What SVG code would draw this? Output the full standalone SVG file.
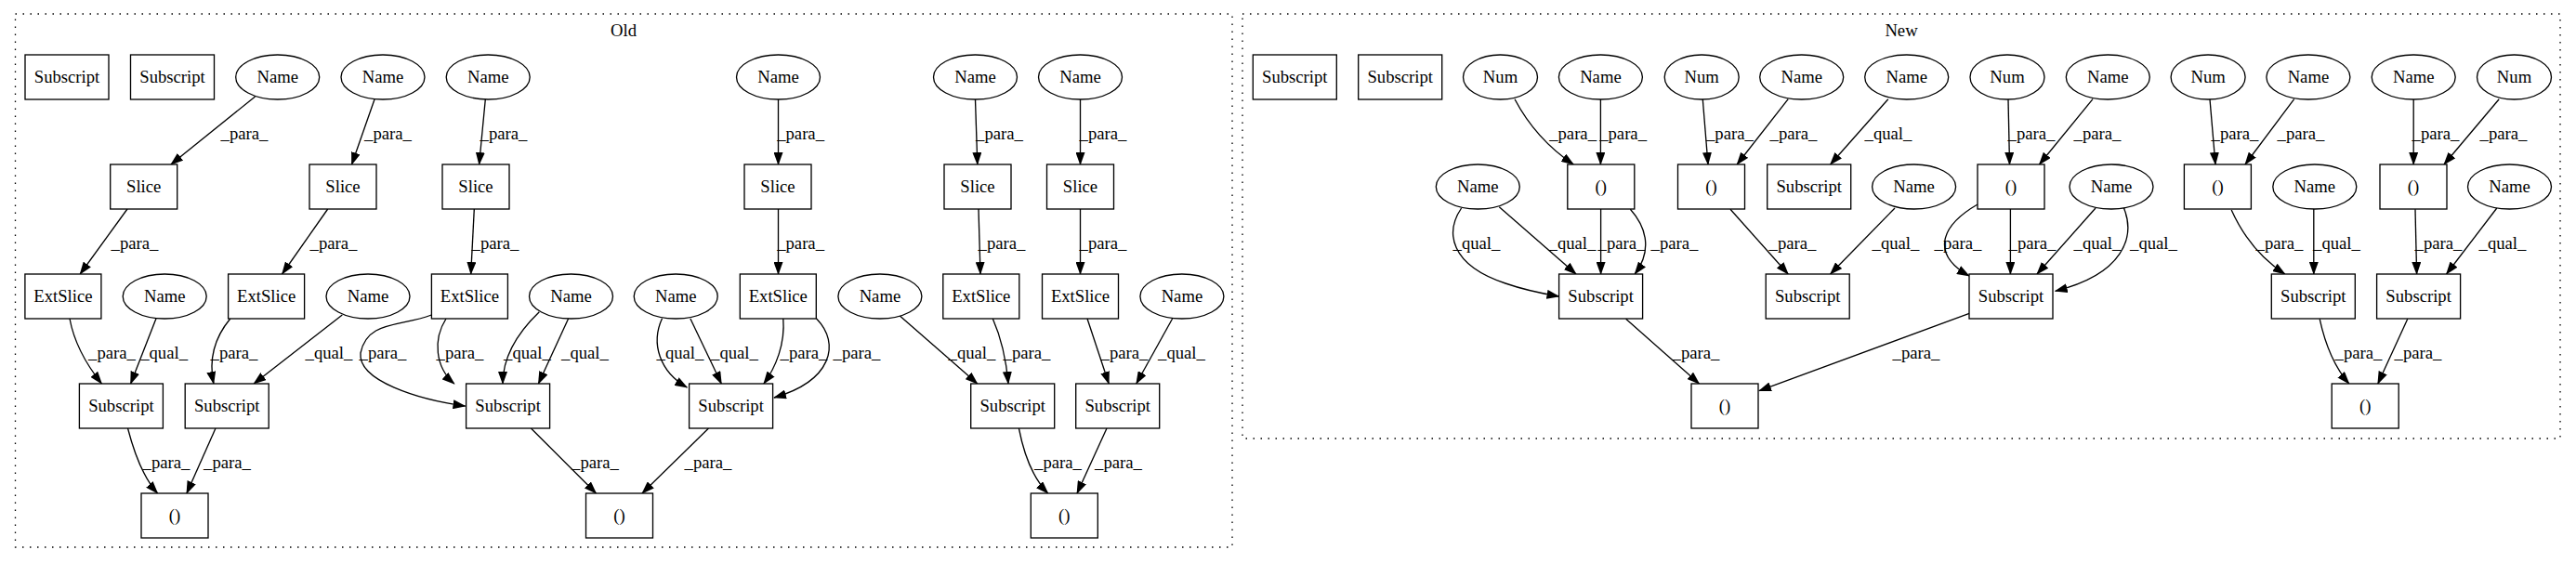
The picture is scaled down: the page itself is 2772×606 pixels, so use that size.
<svg xmlns="http://www.w3.org/2000/svg" width="2772" height="606" viewBox="0 0 2772 606">
<style>
.c{fill:none;stroke:#000;stroke-width:1.33;stroke-dasharray:1.5,6.5}
.n rect,.n ellipse{fill:#fff;stroke:#000;stroke-width:1.33}
text{font-family:"Liberation Serif","Times New Roman",serif;font-size:18.67px;text-anchor:middle;fill:#000}
.e path{fill:none;stroke:#000;stroke-width:1.33;marker-end:url(#a)}
</style>
<defs>
<marker id="a" markerUnits="userSpaceOnUse" markerWidth="14" markerHeight="10" viewBox="0 0 14 10" refX="13" refY="5" orient="auto">
<path d="M0,0 L14,5 L0,10 Z" fill="#000"/>
</marker>
</defs>
<rect width="2772" height="606" fill="#fff"/>
<g id="clusters">
<rect class="c" x="16.5" y="15" width="1309.5" height="574"/>
<text x="671" y="39">Old</text>
<rect class="c" x="1337" y="15" width="1418" height="457"/>
<text x="2046" y="39">New</text>
</g>
<g id="connectors" class="e">
<path d="M274.5,104 L183.9,177"/><text x="263" y="150">_para_</text>
<path d="M403,107 L378.5,177"/><text x="417.5" y="150">_para_</text>
<path d="M522.3,107 L515.6,177"/><text x="542" y="150">_para_</text>
<path d="M837.5,107 L837.5,177"/><text x="861.6" y="150">_para_</text>
<path d="M1049.5,107 L1051.8,177"/><text x="1075.5" y="150">_para_</text>
<path d="M1162.5,107 L1162.5,177"/><text x="1187" y="150">_para_</text>
<path d="M137,225 L86.2,295"/><text x="145" y="268">_para_</text>
<path d="M352.7,225 L303.6,295"/><text x="359" y="268">_para_</text>
<path d="M510.3,225 L506.7,295"/><text x="533" y="268">_para_</text>
<path d="M837.5,225 L837.5,295"/><text x="861.6" y="268">_para_</text>
<path d="M1053,225 L1055,295"/><text x="1078" y="268">_para_</text>
<path d="M1162.5,225 L1162.5,295"/><text x="1187" y="268">_para_</text>
<path d="M75,343 C80,370 95,395 109.4,413"/><text x="120.5" y="386">_para_</text>
<path d="M168.3,342 L140.6,413"/><text x="176.6" y="386">_qual_</text>
<path d="M247.8,343 C232,362 224,385 229.9,413"/><text x="252" y="386">_para_</text>
<path d="M368.3,339 L273.2,413"/><text x="354" y="386">_qual_</text>
<path d="M464.3,339 C430,352 395,345 388,380 C385,410 450,430 500.5,437"/><text x="412" y="386">_para_</text>
<path d="M480,343 C466,365 468,395 488.8,413"/><text x="495" y="386">_para_</text>
<path d="M580.3,335.7 C555,360 541,385 541,413"/><text x="567.5" y="386">_qual_</text>
<path d="M611.6,343 L579.4,413"/><text x="629.5" y="386">_qual_</text>
<path d="M712.5,342.7 C700,370 710,400 739.3,417"/><text x="732" y="386">_qual_</text>
<path d="M742.9,343 L776.3,413"/><text x="790.5" y="386">_qual_</text>
<path d="M842.8,343 C845,370 835,395 821.9,413"/><text x="865" y="386">_para_</text>
<path d="M878.6,343 C905,370 895,410 833,428"/><text x="922" y="386">_para_</text>
<path d="M968.3,340 L1051.8,413"/><text x="1046" y="386">_qual_</text>
<path d="M1068.3,343 C1078,365 1083,390 1085,413"/><text x="1105" y="386">_para_</text>
<path d="M1170,343 L1193.2,413"/><text x="1210" y="386">_para_</text>
<path d="M1261.6,343 L1222.8,413"/><text x="1271.5" y="386">_qual_</text>
<path d="M137.5,461 C145,490 155,515 169.6,531"/><text x="179" y="504">_para_</text>
<path d="M232,461 L200.9,531"/><text x="244.5" y="504">_para_</text>
<path d="M571.4,461 L641.5,531"/><text x="640.5" y="504">_para_</text>
<path d="M762.5,461 L691,531"/><text x="762" y="504">_para_</text>
<path d="M1096.4,461 C1102,490 1112,515 1127.7,531"/><text x="1138.5" y="504">_para_</text>
<path d="M1191,461 L1159,531"/><text x="1203.5" y="504">_para_</text>
<path d="M1630,106.7 C1645,135 1665,158 1693.2,177"/><text x="1692.6" y="150">_para_</text>
<path d="M1722.4,107 L1722.4,177"/><text x="1746.6" y="150">_para_</text>
<path d="M1832.3,107 L1838,177"/><text x="1861.4" y="150">_para_</text>
<path d="M1924.2,106.7 L1869.2,177"/><text x="1930" y="150">_para_</text>
<path d="M2031.8,106.7 L1969.6,177"/><text x="2032" y="150">_qual_</text>
<path d="M2161,107 L2162.5,177"/><text x="2186" y="150">_para_</text>
<path d="M2252,106.7 L2194.5,177"/><text x="2257" y="150">_para_</text>
<path d="M2378,107 L2384,177"/><text x="2405" y="150">_para_</text>
<path d="M2468.7,106.7 L2416,177"/><text x="2476" y="150">_para_</text>
<path d="M2597.2,107 L2597.2,177"/><text x="2621" y="150">_para_</text>
<path d="M2689.2,106.7 L2630,177"/><text x="2694" y="150">_para_</text>
<path d="M1572.6,224 C1555,250 1560,285 1620,305 C1640,312 1660,316 1677.5,319"/><text x="1589" y="268">_qual_</text>
<path d="M1613.3,222.7 L1696,295"/><text x="1692" y="268">_qual_</text>
<path d="M1722.6,225 L1722.6,295"/><text x="1745" y="268">_para_</text>
<path d="M1754.4,225.3 C1772,245 1778,270 1759.2,295"/><text x="1802" y="268">_para_</text>
<path d="M1862,225.3 L1924.2,295"/><text x="1929" y="268">_para_</text>
<path d="M2039,224 L1969.6,295"/><text x="2040" y="268">_qual_</text>
<path d="M2128,220 C2085,245 2080,275 2119,297"/><text x="2107" y="268">_para_</text>
<path d="M2163.4,225 L2163.4,295"/><text x="2187" y="268">_para_</text>
<path d="M2255,224 L2192,295"/><text x="2257" y="268">_qual_</text>
<path d="M2285.5,224 C2298,255 2285,295 2211.7,313.3"/><text x="2317.5" y="268">_qual_</text>
<path d="M2401.2,226 C2412,250 2428,275 2458.8,295"/><text x="2453" y="268">_para_</text>
<path d="M2489.8,225 L2489.8,295"/><text x="2514.5" y="268">_qual_</text>
<path d="M2599,225.3 L2600.6,295"/><text x="2624" y="268">_para_</text>
<path d="M2686.8,224 L2632.6,295"/><text x="2693" y="268">_qual_</text>
<path d="M1749.6,343.3 L1828.5,413"/><text x="1825" y="386">_para_</text>
<path d="M2119.1,337.3 L1893,420.7"/><text x="2062" y="386">_para_</text>
<path d="M2496.2,343.3 C2502,370 2512,395 2527.8,413"/><text x="2538" y="386">_para_</text>
<path d="M2590.8,343.3 L2558.8,413"/><text x="2602" y="386">_para_</text>
</g>
<g id="o_sub1" class="n"><rect x="27" y="59" width="90" height="48"/><text x="72" y="89">Subscript</text></g>
<g id="o_sub2" class="n"><rect x="140.5" y="59" width="90" height="48"/><text x="185.5" y="89">Subscript</text></g>
<g id="o_n1" class="n"><ellipse cx="298.7" cy="83" rx="45" ry="24"/><text x="298.7" y="89">Name</text></g>
<g id="o_n2" class="n"><ellipse cx="412" cy="83" rx="45" ry="24"/><text x="412" y="89">Name</text></g>
<g id="o_n3" class="n"><ellipse cx="525.2" cy="83" rx="45" ry="24"/><text x="525.2" y="89">Name</text></g>
<g id="o_n4" class="n"><ellipse cx="837.5" cy="83" rx="45" ry="24"/><text x="837.5" y="89">Name</text></g>
<g id="o_n5" class="n"><ellipse cx="1049.5" cy="83" rx="45" ry="24"/><text x="1049.5" y="89">Name</text></g>
<g id="o_n6" class="n"><ellipse cx="1162.5" cy="83" rx="45" ry="24"/><text x="1162.5" y="89">Name</text></g>
<g id="o_sl1" class="n"><rect x="118.7" y="177" width="72" height="48"/><text x="154.7" y="207">Slice</text></g>
<g id="o_sl2" class="n"><rect x="333" y="177" width="72" height="48"/><text x="369" y="207">Slice</text></g>
<g id="o_sl3" class="n"><rect x="476" y="177" width="72" height="48"/><text x="512" y="207">Slice</text></g>
<g id="o_sl4" class="n"><rect x="801" y="177" width="72" height="48"/><text x="837" y="207">Slice</text></g>
<g id="o_sl5" class="n"><rect x="1016" y="177" width="72" height="48"/><text x="1052" y="207">Slice</text></g>
<g id="o_sl6" class="n"><rect x="1126.5" y="177" width="72" height="48"/><text x="1162.5" y="207">Slice</text></g>
<g id="o_ex1" class="n"><rect x="26.9" y="295" width="82" height="48"/><text x="67.9" y="325">ExtSlice</text></g>
<g id="o_n7" class="n"><ellipse cx="177.2" cy="319" rx="45" ry="24"/><text x="177.2" y="325">Name</text></g>
<g id="o_ex2" class="n"><rect x="245.6" y="295" width="82" height="48"/><text x="286.6" y="325">ExtSlice</text></g>
<g id="o_n8" class="n"><ellipse cx="396" cy="319" rx="45" ry="24"/><text x="396" y="325">Name</text></g>
<g id="o_ex3" class="n"><rect x="464.4" y="295" width="82" height="48"/><text x="505.4" y="325">ExtSlice</text></g>
<g id="o_n9" class="n"><ellipse cx="614.5" cy="319" rx="45" ry="24"/><text x="614.5" y="325">Name</text></g>
<g id="o_n10" class="n"><ellipse cx="727.2" cy="319" rx="45" ry="24"/><text x="727.2" y="325">Name</text></g>
<g id="o_ex4" class="n"><rect x="796.3" y="295" width="82" height="48"/><text x="837.3" y="325">ExtSlice</text></g>
<g id="o_n11" class="n"><ellipse cx="946.9" cy="319" rx="45" ry="24"/><text x="946.9" y="325">Name</text></g>
<g id="o_ex5" class="n"><rect x="1014.8" y="295" width="82" height="48"/><text x="1055.8" y="325">ExtSlice</text></g>
<g id="o_ex6" class="n"><rect x="1121.5" y="295" width="82" height="48"/><text x="1162.5" y="325">ExtSlice</text></g>
<g id="o_n12" class="n"><ellipse cx="1271.9" cy="319" rx="45" ry="24"/><text x="1271.9" y="325">Name</text></g>
<g id="o_s1" class="n"><rect x="85.4" y="413" width="90" height="48"/><text x="130.4" y="443">Subscript</text></g>
<g id="o_s2" class="n"><rect x="199.2" y="413" width="90" height="48"/><text x="244.2" y="443">Subscript</text></g>
<g id="o_s3" class="n"><rect x="501.6" y="413" width="90" height="48"/><text x="546.6" y="443">Subscript</text></g>
<g id="o_s4" class="n"><rect x="741.6" y="413" width="90" height="48"/><text x="786.6" y="443">Subscript</text></g>
<g id="o_s5" class="n"><rect x="1044.7" y="413" width="90" height="48"/><text x="1089.7" y="443">Subscript</text></g>
<g id="o_s6" class="n"><rect x="1157.7" y="413" width="90" height="48"/><text x="1202.7" y="443">Subscript</text></g>
<g id="o_t1" class="n"><rect x="152" y="531" width="72" height="48"/><text x="188" y="561">()</text></g>
<g id="o_t2" class="n"><rect x="630.5" y="531" width="72" height="48"/><text x="666.5" y="561">()</text></g>
<g id="o_t3" class="n"><rect x="1109.3" y="531" width="72" height="48"/><text x="1145.3" y="561">()</text></g>
<g id="n_sub1" class="n"><rect x="1348.3" y="59" width="90" height="48"/><text x="1393.3" y="89">Subscript</text></g>
<g id="n_sub2" class="n"><rect x="1461.7" y="59" width="90" height="48"/><text x="1506.7" y="89">Subscript</text></g>
<g id="n_num1" class="n"><ellipse cx="1614.5" cy="83" rx="40" ry="24"/><text x="1614.5" y="89">Num</text></g>
<g id="n_name1" class="n"><ellipse cx="1722.4" cy="83" rx="45" ry="24"/><text x="1722.4" y="89">Name</text></g>
<g id="n_num2" class="n"><ellipse cx="1831.2" cy="83" rx="40" ry="24"/><text x="1831.2" y="89">Num</text></g>
<g id="n_name2" class="n"><ellipse cx="1938.7" cy="83" rx="45" ry="24"/><text x="1938.7" y="89">Name</text></g>
<g id="n_name3" class="n"><ellipse cx="2051.7" cy="83" rx="45" ry="24"/><text x="2051.7" y="89">Name</text></g>
<g id="n_num3" class="n"><ellipse cx="2160" cy="83" rx="40" ry="24"/><text x="2160" y="89">Num</text></g>
<g id="n_name4" class="n"><ellipse cx="2268.3" cy="83" rx="45" ry="24"/><text x="2268.3" y="89">Name</text></g>
<g id="n_num4" class="n"><ellipse cx="2376.1" cy="83" rx="40" ry="24"/><text x="2376.1" y="89">Num</text></g>
<g id="n_name5" class="n"><ellipse cx="2483.9" cy="83" rx="45" ry="24"/><text x="2483.9" y="89">Name</text></g>
<g id="n_name6" class="n"><ellipse cx="2597.2" cy="83" rx="45" ry="24"/><text x="2597.2" y="89">Name</text></g>
<g id="n_num5" class="n"><ellipse cx="2705.5" cy="83" rx="40" ry="24"/><text x="2705.5" y="89">Num</text></g>
<g id="n_name7" class="n"><ellipse cx="1590.3" cy="201" rx="45" ry="24"/><text x="1590.3" y="207">Name</text></g>
<g id="n_t1" class="n"><rect x="1686.8" y="177" width="72" height="48"/><text x="1722.8" y="207">()</text></g>
<g id="n_t2" class="n"><rect x="1805.5" y="177" width="72" height="48"/><text x="1841.5" y="207">()</text></g>
<g id="n_sub3" class="n"><rect x="1901.7" y="177" width="90" height="48"/><text x="1946.7" y="207">Subscript</text></g>
<g id="n_name8" class="n"><ellipse cx="2059.6" cy="201" rx="45" ry="24"/><text x="2059.6" y="207">Name</text></g>
<g id="n_t3" class="n"><rect x="2128" y="177" width="72" height="48"/><text x="2164" y="207">()</text></g>
<g id="n_name9" class="n"><ellipse cx="2272" cy="201" rx="45" ry="24"/><text x="2272" y="207">Name</text></g>
<g id="n_t4" class="n"><rect x="2350.4" y="177" width="72" height="48"/><text x="2386.4" y="207">()</text></g>
<g id="n_name10" class="n"><ellipse cx="2490.8" cy="201" rx="45" ry="24"/><text x="2490.8" y="207">Name</text></g>
<g id="n_t5" class="n"><rect x="2561" y="177" width="72" height="48"/><text x="2597" y="207">()</text></g>
<g id="n_name11" class="n"><ellipse cx="2700.5" cy="201" rx="45" ry="24"/><text x="2700.5" y="207">Name</text></g>
<g id="n_s1" class="n"><rect x="1677.6" y="295" width="90" height="48"/><text x="1722.6" y="325">Subscript</text></g>
<g id="n_s2" class="n"><rect x="1900.2" y="295" width="90" height="48"/><text x="1945.2" y="325">Subscript</text></g>
<g id="n_s3" class="n"><rect x="2119" y="295" width="90" height="48"/><text x="2164" y="325">Subscript</text></g>
<g id="n_s4" class="n"><rect x="2444.3" y="295" width="90" height="48"/><text x="2489.3" y="325">Subscript</text></g>
<g id="n_s5" class="n"><rect x="2557.6" y="295" width="90" height="48"/><text x="2602.6" y="325">Subscript</text></g>
<g id="n_t6" class="n"><rect x="1820" y="413" width="72" height="48"/><text x="1856" y="443">()</text></g>
<g id="n_t7" class="n"><rect x="2509.2" y="413" width="72" height="48"/><text x="2545.2" y="443">()</text></g>
</svg>
